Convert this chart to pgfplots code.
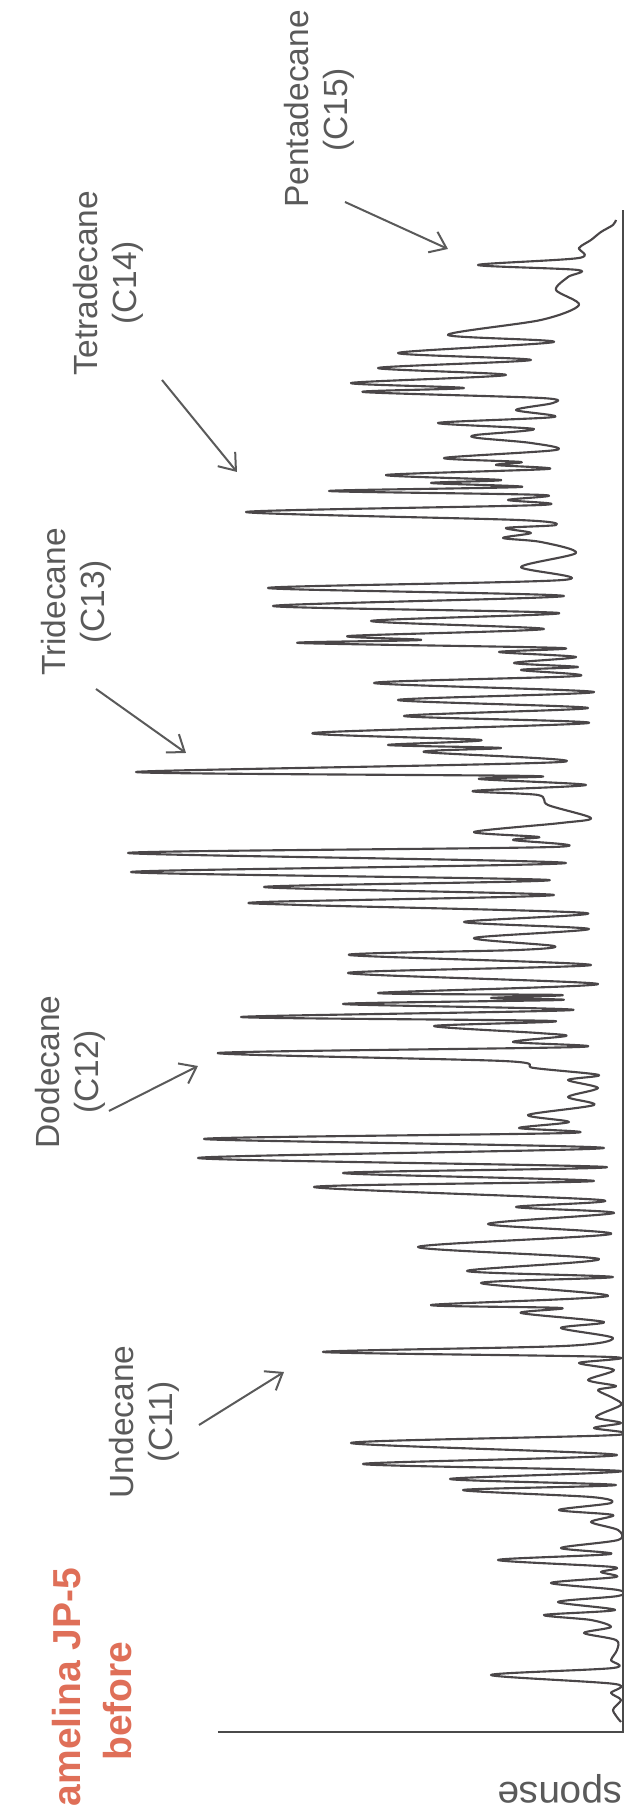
\documentclass[border=0pt]{standalone}
\usepackage{fontspec}
\setmainfont{Liberation Sans}
\usepackage{pgfplots}
\usepackage{pgfplotstable}
\pgfplotsset{compat=1.18}
\usetikzlibrary{arrows.meta}
\definecolor{tracegray}{HTML}{4A4648}
\definecolor{labelgray}{HTML}{5A5A5A}
\definecolor{axisgray}{HTML}{4A4A4A}
\definecolor{titlered}{HTML}{DF6F58}

% t = retention (pixels up from the baseline axis), r = response (pixels left of the axis)
\pgfplotstableread{
t r
10 2
22 10
32 2
39 12
48 8
57 132
64 10
72 12
82 6
92 7
99 39
105 12
112 32
117 79
122 8
130 65
136 5
142 5
149 72
155 7
160 22
165 10
172 125
178 12
184 62
192 5
202 5
210 32
217 10
222 64
229 12
235 32
242 160
247 7
253 173
261 2
268 260
277 6
289 272
297 7
304 29
309 2
315 27
327 2
334 10
342 25
346 7
352 35
362 9
369 44
375 12
380 300
386 59
394 10
404 62
410 19
419 102
424 62
427 192
436 15
449 142
455 10
461 156
473 24
485 205
498 12
508 135
519 9
525 107
532 22
545 309
551 29
559 280
565 17
574 425
584 19
593 419
599 54
604 104
610 54
617 95
627 29
635 55
644 25
652 55
657 24
664 89
671 120
679 405
685 44
690 110
696 57
699 85
706 189
711 70
715 382
722 50
728 280
732 62
734 132
737 62
739 245
748 25
759 275
767 32
777 274
782 105
786 69
794 149
803 34
810 159
819 37
827 322
830 359
837 69
845 359
852 74
860 492
869 57
879 495
885 70
892 110
895 84
900 149
909 62
914 32
927 75
937 85
941 150
947 37
953 144
956 92
960 487
970 62
980 199
984 122
987 235
992 142
999 310
1009 34
1016 219
1024 35
1032 225
1040 29
1049 249
1056 45
1062 102
1065 45
1069 109
1075 47
1080 124
1084 62
1089 324
1092 202
1096 274
1103 79
1111 252
1119 64
1126 350
1136 59
1144 355
1152 60
1165 102
1179 47
1190 82
1194 120
1199 92
1204 117
1207 67
1212 105
1220 377
1227 82
1232 115
1237 80
1241 294
1245 102
1249 192
1252 122
1257 237
1263 75
1267 127
1270 102
1274 179
1282 67
1289 92
1294 145
1297 147
1303 89
1309 185
1315 69
1322 107
1329 70
1334 82
1340 260
1344 159
1349 272
1357 117
1364 245
1372 92
1379 225
1390 69
1397 175
1412 82
1427 44
1442 67
1455 55
1462 45
1467 145
1474 44
1484 44
1492 32
1500 22
1507 10
1512 7
}\trace

\begin{document}
\begin{tikzpicture}
\begin{axis}[
  x=0.4pt, y=0.4pt,
  x dir=reverse,
  xmin=-1, xmax=622, ymin=-75, ymax=1732,
  hide axis, clip=false,
]
\addplot[tracegray, line width=0.85pt, line join=round, mark=none, smooth, tension=0.5] table[x=r, y=t] {\trace};

\draw[axisgray, line width=0.8pt] (axis cs:405,0) -- (axis cs:0,0) -- (axis cs:0,1522);

\begin{scope}[labelgray, line width=0.8pt, -{Straight Barb[length=6pt,width=9pt]}]
\draw (axis cs:278,1530) -- (axis cs:175,1483);
\draw (axis cs:461,1352) -- (axis cs:386,1260);
\draw (axis cs:527,1043) -- (axis cs:437,979);
\draw (axis cs:514,621) -- (axis cs:425,666);
\draw (axis cs:424,307) -- (axis cs:339,360);
\end{scope}

\begin{scope}[every node/.style={inner sep=0pt, outer sep=0pt, text=labelgray, font=\fontsize{13.4}{15.6}\selectfont}]
\node[rotate=90, anchor=base] at (axis cs:314,1623) {Pentadecane};
\node[rotate=90, anchor=base] at (axis cs:275,1622) {(C15)};
\node[rotate=90, anchor=base] at (axis cs:525,1449) {Tetradecane};
\node[rotate=90, anchor=base] at (axis cs:486,1449) {(C14)};
\node[rotate=90, anchor=base] at (axis cs:557,1130) {Tridecane};
\node[rotate=90, anchor=base] at (axis cs:518,1130) {(C13)};
\node[rotate=90, anchor=base] at (axis cs:563,660) {Dodecane};
\node[rotate=90, anchor=base] at (axis cs:524,660) {(C12)};
\node[rotate=90, anchor=base] at (axis cs:489,310) {Undecane};
\node[rotate=90, anchor=base] at (axis cs:450,310) {(C11)};
\node[rotate=180, anchor=base, font=\fontsize{15.5}{18}\selectfont] at (axis cs:38,-51) {Response};
\end{scope}

\node[rotate=90, anchor=base, inner sep=0pt, text=titlered, font=\fontsize{15.6}{20}\selectfont\bfseries] at (axis cs:542,31) {Camelina JP-5};
\node[rotate=90, anchor=base, inner sep=0pt, text=titlered, font=\fontsize{15.6}{20}\selectfont\bfseries] at (axis cs:491,31) {before};

\coordinate (TL) at (axis cs:623,1732);
\coordinate (BR) at (axis cs:0,-75);
\end{axis}
\pgfresetboundingbox
\path (TL) rectangle (BR);
\end{tikzpicture}
\end{document}
